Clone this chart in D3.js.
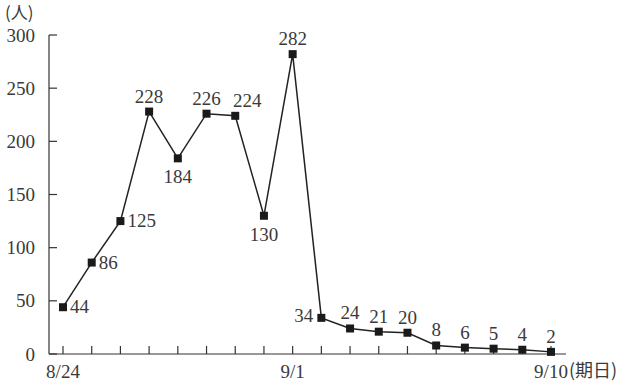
<!DOCTYPE html>
<html><head><meta charset="utf-8">
<script src="https://cdn.jsdelivr.net/npm/d3@7"></script>
<style>
body{margin:0;background:#fff;}
svg text{font-family:"Liberation Serif","DejaVu Serif",serif;fill:#3a3a3a;}
</style></head>
<body><svg id="c" width="621" height="385"></svg>
<script>
const dates = ["8/24","8/25","8/26","8/27","8/28","8/29","8/30","8/31","9/1","9/2","9/3","9/4","9/5","9/6","9/7","9/8","9/9","9/10"];
const values = [44,86,125,228,184,226,224,130,282,34,24,21,20,8,6,5,4,2];
const yTicks = [0,50,100,150,200,250,300];
const xTickLabels = {"8/24":"8/24","9/1":"9/1","9/10":"9/10"};
const yUnit = "(人)";
const xUnit = "(期日)";

const svg = d3.select("#c");
const x = d3.scalePoint().domain(dates).range([63,551]);
const y = d3.scaleLinear().domain([0,300]).range([354,35]);

// axes lines
svg.append("line").attr("x1",49).attr("x2",49).attr("y1",35).attr("y2",354).attr("stroke","#333").attr("stroke-width",1.2);
svg.append("line").attr("x1",49).attr("x2",566).attr("y1",354).attr("y2",354).attr("stroke","#333").attr("stroke-width",1.2);

// y ticks
yTicks.forEach(t=>{
  svg.append("line").attr("x1",49).attr("x2",57).attr("y1",y(t)).attr("y2",y(t)).attr("stroke","#333").attr("stroke-width",1.2);
  svg.append("text").attr("x",35).attr("y",y(t)).attr("dy","0.35em").attr("text-anchor","end").attr("font-size",19).text(t);
});
// x ticks
dates.forEach(d=>{
  svg.append("line").attr("x1",x(d)).attr("x2",x(d)).attr("y1",354).attr("y2",346).attr("stroke","#333").attr("stroke-width",1.2);
  if(xTickLabels[d]) svg.append("text").attr("x",x(d)).attr("y",378).attr("text-anchor","middle").attr("font-size",19).text(xTickLabels[d]);
});
svg.append("text").attr("x",569).attr("y",377).attr("font-size",18).style("font-family","'Noto Sans CJK JP',sans-serif").text(xUnit);
svg.append("text").attr("x",5).attr("y",19).attr("font-size",17).style("font-family","'Noto Sans CJK JP',sans-serif").text(yUnit);

// line
const line = d3.line().x((d,i)=>x(dates[i])).y(d=>y(d));
svg.append("path").datum(values).attr("d",line).attr("fill","none").attr("stroke","#222").attr("stroke-width",1.5);
svg.selectAll("rect.m").data(values).enter().append("rect")
  .attr("x",(d,i)=>x(dates[i])-4).attr("y",d=>y(d)-4).attr("width",8).attr("height",8).attr("fill","#1a1a1a");

// labels
const side = i => (i<=2 ? "right" : (i===4||i===7) ? "below" : i===9 ? "left" : "above");
values.forEach((v,i)=>{
  const px=x(dates[i]), py=y(v), s=side(i);
  const t=svg.append("text").attr("font-size",19).text(v);
  if(s==="right") t.attr("x",px+7).attr("y",py+6).attr("text-anchor","start");
  else if(s==="left") t.attr("x",px-8).attr("y",py+4).attr("text-anchor","end");
  else if(s==="below") t.attr("x",px).attr("y",py+25).attr("text-anchor","middle");
  else t.attr("x",px + (i===6 ? 12 : 0)).attr("y",py-9).attr("text-anchor","middle");
});
</script></body></html>
